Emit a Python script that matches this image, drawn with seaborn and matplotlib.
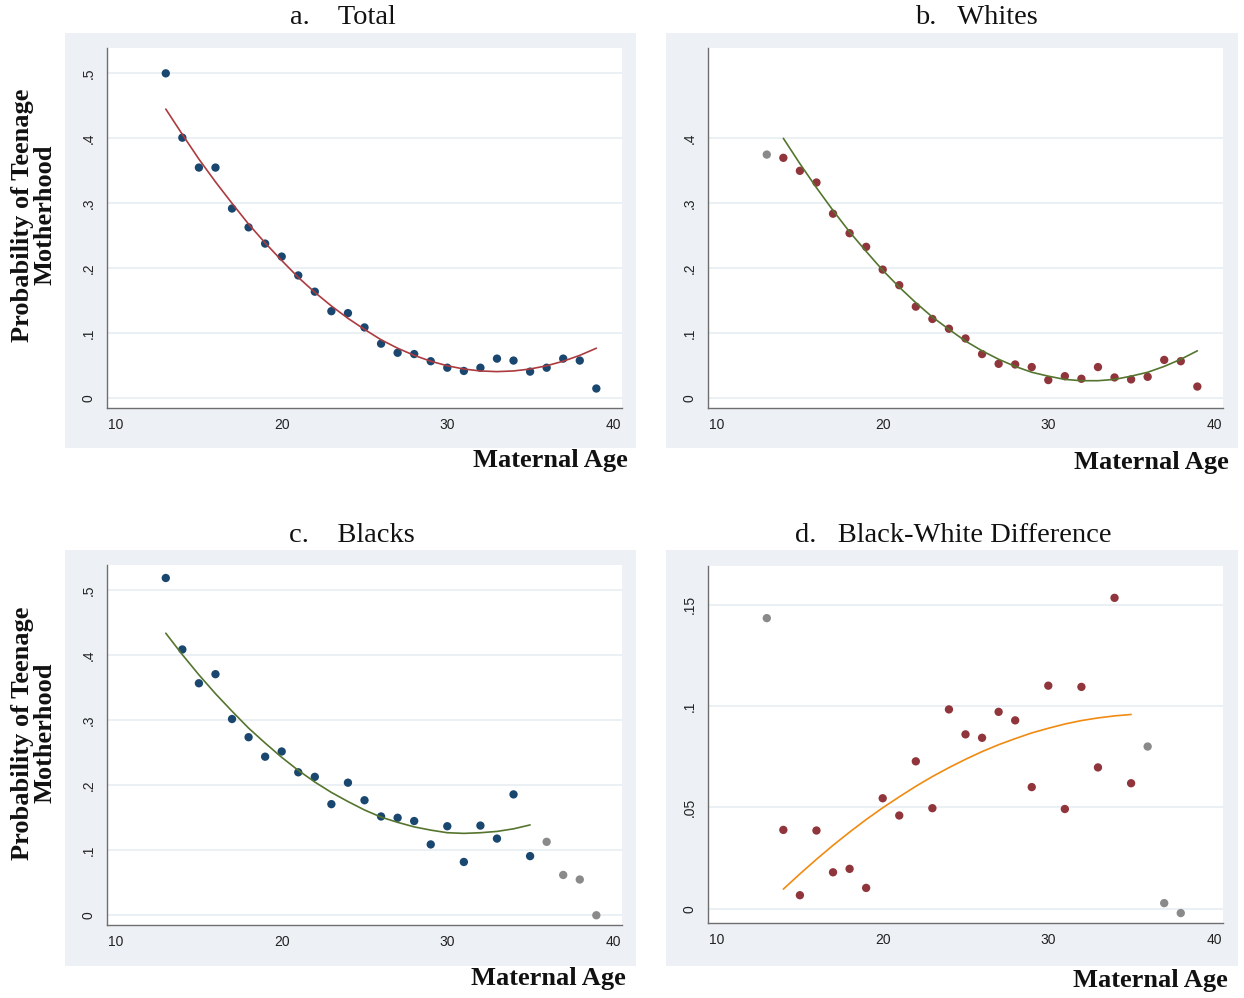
import pandas as pd
import seaborn as sns
import matplotlib.pyplot as plt
from matplotlib.patches import Rectangle

# maternal age, 13..39
AGES = [13, 14, 15, 16, 17, 18, 19, 20, 21, 22, 23, 24, 25, 26,
        27, 28, 29, 30, 31, 32, 33, 34, 35, 36, 37, 38, 39]

TOTAL = [0.500, 0.401, 0.355, 0.355, 0.292, 0.263, 0.238, 0.218, 0.189,
         0.164, 0.134, 0.131, 0.109, 0.084, 0.070, 0.068, 0.057, 0.047,
         0.042, 0.047, 0.061, 0.058, 0.041, 0.047, 0.061, 0.058, 0.015]

WHITES = [0.375, 0.370, 0.350, 0.332, 0.284, 0.254, 0.233, 0.198, 0.174,
          0.141, 0.122, 0.107, 0.092, 0.068, 0.053, 0.052, 0.048, 0.028,
          0.034, 0.030, 0.048, 0.032, 0.029, 0.033, 0.059, 0.057, 0.018]

BLACKS = [0.519, 0.409, 0.357, 0.371, 0.302, 0.274, 0.244, 0.252, 0.220,
          0.213, 0.171, 0.204, 0.177, 0.152, 0.150, 0.145, 0.109, 0.137,
          0.082, 0.138, 0.118, 0.186, 0.091, 0.113, 0.062, 0.055, 0.000]

DIFF_AGES = [13, 14, 15, 16, 17, 18, 19, 20, 21, 22, 23, 24, 25,
             26, 27, 28, 29, 30, 31, 32, 33, 34, 35, 36, 37, 38]
DIFF = [0.1433, 0.0389, 0.0067, 0.0386, 0.0180, 0.0197, 0.0103, 0.0545,
        0.0460, 0.0727, 0.0496, 0.0983, 0.0860, 0.0843, 0.0971, 0.0929,
        0.0600, 0.1100, 0.0492, 0.1094, 0.0697, 0.1533, 0.0619, 0.0800,
        0.0028, -0.0021]

# ages left out of the quadratic fit (drawn in gray)
TOTAL_OUT = []
WHITES_OUT = [13]
BLACKS_OUT = [36, 37, 38, 39]
DIFF_OUT = [13, 36, 37, 38]

# quadratic fit curves at each age in the fit range
TOTAL_FIT_AGES = AGES
TOTAL_FIT = [0.445, 0.406, 0.368, 0.333, 0.300, 0.268, 0.239, 0.212, 0.186,
             0.163, 0.142, 0.123, 0.106, 0.090, 0.077, 0.066, 0.057, 0.050,
             0.045, 0.042, 0.041, 0.042, 0.045, 0.050, 0.057, 0.066, 0.077]

WHITES_FIT_AGES = AGES[1:]
WHITES_FIT = [0.400, 0.361, 0.324, 0.289, 0.256, 0.226, 0.197, 0.171, 0.147,
              0.125, 0.106, 0.088, 0.073, 0.060, 0.049, 0.040, 0.034, 0.029,
              0.027, 0.027, 0.029, 0.034, 0.040, 0.049, 0.060, 0.073]

BLACKS_FIT_AGES = AGES[:23]
BLACKS_FIT = [0.434, 0.401, 0.370, 0.341, 0.314, 0.288, 0.265, 0.243, 0.223,
              0.205, 0.189, 0.175, 0.162, 0.151, 0.143, 0.136, 0.131, 0.127,
              0.126, 0.127, 0.129, 0.133, 0.139]

DIFF_FIT_AGES = AGES[1:23]
DIFF_FIT = [0.0097, 0.0172, 0.0244, 0.0313, 0.0378, 0.0440, 0.0498, 0.0552,
            0.0604, 0.0652, 0.0696, 0.0737, 0.0775, 0.0809, 0.0839, 0.0867,
            0.0890, 0.0911, 0.0928, 0.0941, 0.0951, 0.0958]

W, H = 1244, 998
BG = "#edf1f6"
GRID = "#e8eef3"
NAVY = "#1a476f"
MAROON = "#90353b"
GRAY = "#8a8a8a"
SERIF = ["Liberation Serif", "DejaVu Serif"]

sns.set_style("white")
plt.rcParams["font.family"] = ["Liberation Sans", "DejaVu Sans"]


def px_rect(x0, y0, x1, y1):
    return [x0 / W, 1 - y1 / H, (x1 - x0) / W, (y1 - y0) / H]


def draw_panel(fig, box, rect, ages, vals, excluded, fit_ages, fit, dot, line,
               yticks, ylabels, ylim):
    r = px_rect(*box)
    fig.add_artist(Rectangle(r[:2], r[2], r[3], transform=fig.transFigure,
                             facecolor=BG, edgecolor="none", zorder=-5))
    ax = fig.add_axes(px_rect(*rect))
    ax.set_facecolor("white")

    df = pd.DataFrame({"age": ages, "p": vals})
    df["in_fit"] = ~df["age"].isin(excluded)
    kept = df[df["in_fit"]]
    out = df[~df["in_fit"]]

    sns.scatterplot(data=kept, x="age", y="p", color=dot, s=36,
                    edgecolor="none", ax=ax, zorder=3)
    if len(out):
        sns.scatterplot(data=out, x="age", y="p", color=GRAY, s=36,
                        edgecolor="none", ax=ax, zorder=3)
    fit_df = pd.DataFrame({"age": fit_ages, "p": fit})
    sns.lineplot(data=fit_df, x="age", y="p", color=line, linewidth=1.2,
                 ax=ax, zorder=4)

    ax.set_xlim(9.45, 40.55)
    ax.set_ylim(*ylim)
    ax.set_xticks([10, 20, 30, 40])
    ax.set_yticks(yticks)
    ax.set_yticklabels(ylabels, rotation=90, va="center")
    ax.set_xlabel("")
    ax.set_ylabel("")
    for s in ["top", "right"]:
        ax.spines[s].set_visible(False)
    for s in ["left", "bottom"]:
        ax.spines[s].set_color("#6e6e6e")
        ax.spines[s].set_linewidth(1.0)
    ax.tick_params(axis="both", direction="out", length=4, width=0.8,
                   color="#777777", labelsize=10, labelcolor="#222222", pad=3)
    ax.tick_params(axis="y", pad=4)
    ax.yaxis.grid(True, color=GRID, linewidth=1.2)
    ax.xaxis.grid(False)
    ax.set_axisbelow(True)
    return ax


fig = plt.figure(figsize=(W / 100, H / 100), dpi=100)

yt_main = [0, 0.1, 0.2, 0.3, 0.4, 0.5]
yl_main = ["0", ".1", ".2", ".3", ".4", ".5"]

draw_panel(fig, (65, 33, 636, 448), (107, 48, 622, 408), AGES, TOTAL,
           TOTAL_OUT, TOTAL_FIT_AGES, TOTAL_FIT, NAVY, "#ac3b40",
           yt_main, yl_main, (-0.015, 0.539))
draw_panel(fig, (666, 33, 1238, 448), (708, 48, 1223, 408), AGES, WHITES,
           WHITES_OUT, WHITES_FIT_AGES, WHITES_FIT, MAROON, "#55752f",
           yt_main[:5], yl_main[:5], (-0.015, 0.539))
draw_panel(fig, (65, 550, 636, 966), (107, 565, 622, 925), AGES, BLACKS,
           BLACKS_OUT, BLACKS_FIT_AGES, BLACKS_FIT, NAVY, "#55752f",
           yt_main, yl_main, (-0.015, 0.539))
draw_panel(fig, (666, 550, 1238, 966), (708, 566, 1223, 923), DIFF_AGES,
           DIFF, DIFF_OUT, DIFF_FIT_AGES, DIFF_FIT, MAROON, "#f08a10",
           [0, 0.05, 0.1, 0.15], ["0", ".05", ".1", ".15"], (-0.007, 0.169))

titles = [("a.    Total", 343, 17), ("b.   Whites", 976, 17),
          ("c.    Blacks", 352, 535), ("d.   Black-White Difference", 953, 535)]
for txt, x, y in titles:
    fig.text(x / W, 1 - y / H, txt, ha="center", va="center",
             family=SERIF, fontsize=20.5, color="#111111")

for y in [215, 733]:
    fig.text(34 / W, 1 - y / H, "Probability of Teenage\nMotherhood",
             rotation=90, ha="center", va="center", multialignment="center",
             family=SERIF, fontsize=19, fontweight="bold", linespacing=1.0,
             color="#111111")

for x, y in [(628, 460), (1229, 463), (626, 978), (1228, 980)]:
    fig.text(x / W, 1 - y / H, "Maternal Age", ha="right", va="center",
             family=SERIF, fontsize=19, fontweight="bold", color="#111111")

fig.savefig("out.png", dpi=100)
